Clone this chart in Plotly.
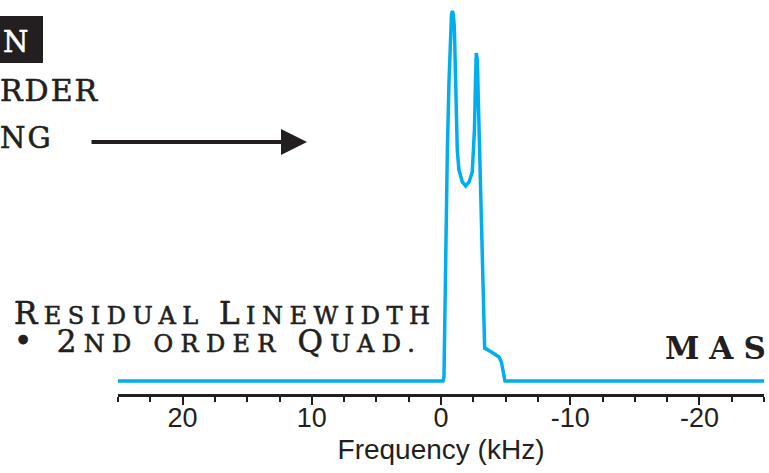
import plotly.graph_objects as go

# Spectrum (kHz vs normalized intensity)
freq_khz = [25, -0.15, -0.23, -0.41, -0.49, -0.62, -0.73, -0.81, -0.88, -0.95,
            -1.03, -1.14, -1.26, -1.39, -1.65, -1.91, -2.17, -2.42, -2.59,
            -2.67, -2.73, -2.81, -2.94, -3.17, -3.38, -3.94, -4.49, -4.68,
            -4.79, -4.95, -25]
intensity = [0, 0, 0.01, 0.46, 0.62, 0.81, 0.935, 0.99, 1.0, 0.99,
             0.96, 0.76, 0.624, 0.57, 0.538, 0.527, 0.538, 0.565, 0.68,
             0.81, 0.886, 0.868, 0.67, 0.31, 0.089, 0.078, 0.065, 0.051,
             0.024, 0, 0]

major_ticks = [20, 10, 0, -10, -20]
major_labels = ["20", "10", "0", "-10", "-20"]

INK = "#231f20"
BLUE = "#00AEEF"
SERIF = "DejaVu Serif"

L, R, T, B = 118, 5, 5, 79
W, H = 769, 473
PW, PH = W - L - R, H - T - B


def px(x):
    return (x - L) / PW


def py(y):
    return (H - B - y) / PH


fig = go.Figure()
fig.add_trace(go.Scatter(x=freq_khz, y=intensity, mode="lines",
                         line=dict(color=BLUE, width=3.5), hoverinfo="skip"))

fig.update_layout(
    width=W, height=H,
    margin=dict(l=L, r=R, t=T, b=B),
    paper_bgcolor="white", plot_bgcolor="white",
    showlegend=False,
    xaxis=dict(
        range=[25, -25], showgrid=False, zeroline=False,
        showline=True, linecolor=INK, linewidth=2.5,
        tickmode="array", tickvals=major_ticks, ticktext=major_labels,
        ticks="outside", ticklen=8, tickwidth=2, tickcolor=INK,
        ticklabelstandoff=-10,
        minor=dict(dtick=2.5, tick0=0, ticks="outside", ticklen=5,
                   tickwidth=2, tickcolor=INK),
        tickfont=dict(family="Liberation Sans, Arial", size=27, color=INK),
        title=dict(text="Frequency (kHz)", standoff=8,
                   font=dict(family="Liberation Sans, Arial", size=28, color=INK)),
    ),
    yaxis=dict(range=[-0.035, 1.016], visible=False),
)

HEAVY = "stroke:#231f20;stroke-width:0.6px"


def caps(big, small, spacing):
    return (f'<span style="font-size:{big}px;letter-spacing:{spacing}px;{HEAVY}">',
            f'<span style="font-size:{small}px;letter-spacing:{spacing}px;{HEAVY}">')


B1, S1 = caps(31, 24, 6.5)
B2, S2 = caps(31, 24, 7.3)
residual = (f"{B1}R</span>{S1}ESIDUAL </span>{B1}L</span>{S1}INEWIDTH</span>"
            f"<br>{B2}• 2</span>{S2}ND ORDER </span>{B2}Q</span>{S2}UAD.</span>")

anns = [
    dict(text='<span style="stroke:white;stroke-width:0.6px">N</span>',
         x=px(1), y=py(42), xanchor="left", yanchor="middle",
         font=dict(family=SERIF, size=29, color="white")),
    dict(text=f'<span style="letter-spacing:2px;{HEAVY}">RDER</span>', x=px(-2),
         y=py(91), xanchor="left", yanchor="middle",
         font=dict(family=SERIF, size=30, color=INK)),
    dict(text=f'<span style="letter-spacing:2px;{HEAVY}">NG</span>', x=px(-2),
         y=py(138), xanchor="left", yanchor="middle",
         font=dict(family=SERIF, size=29, color=INK)),
    dict(text=residual, x=px(12), y=py(327), xanchor="left", yanchor="middle",
         align="left", font=dict(family=SERIF, size=21.5, color=INK)),
    dict(text='<b><span style="letter-spacing:10px">MA</span>S</b>', x=px(768),
         y=py(348), xanchor="right", yanchor="middle",
         font=dict(family=SERIF, size=31, color=INK)),
]
for a in anns:
    a.update(xref="paper", yref="paper", showarrow=False)
    fig.add_annotation(**a)

# arrow (tail given in pixels relative to the head)
fig.add_annotation(xref="paper", yref="paper", axref="pixel", ayref="pixel",
                   x=px(307), y=py(142), ax=-(307 - 90), ay=0, text="",
                   showarrow=True, arrowhead=2, arrowsize=1.3, arrowwidth=4,
                   arrowcolor=INK)

# black box behind the clipped "N"
fig.add_shape(type="rect", xref="paper", yref="paper",
              x0=px(-5), x1=px(43), y0=py(63), y1=py(16),
              fillcolor=INK, line=dict(width=0), layer="below")

fig.write_html("out.html")
